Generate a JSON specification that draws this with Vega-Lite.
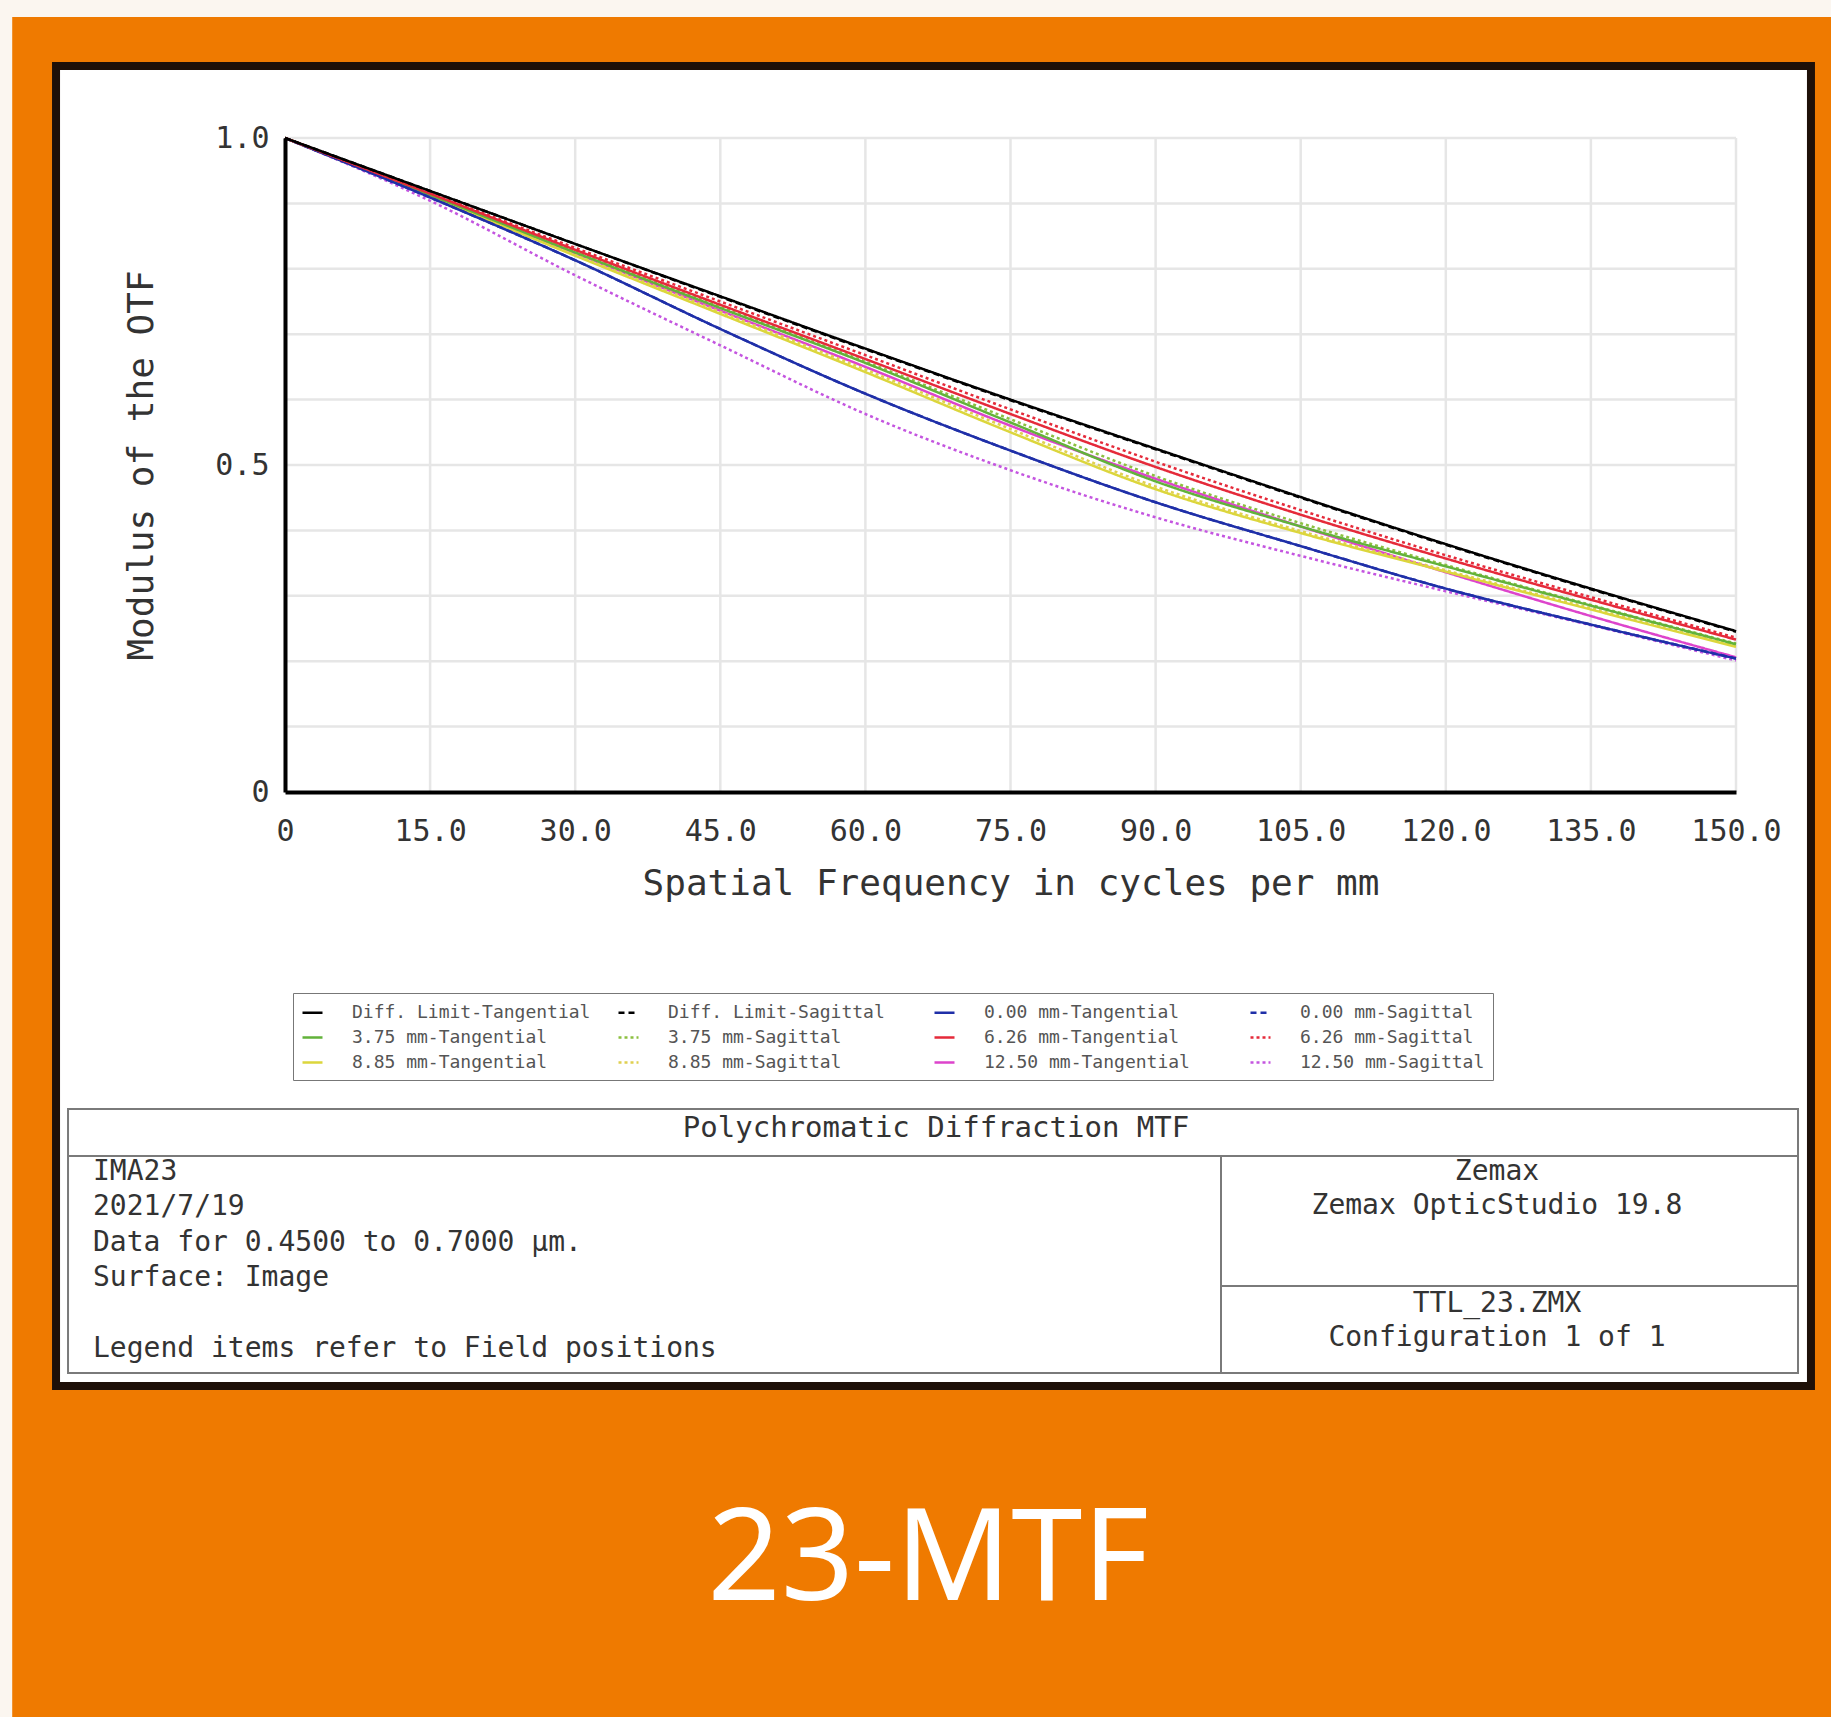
{
  "$schema": "https://vega.github.io/schema/vega-lite/v6.json",
  "width": 1451,
  "height": 654,
  "autosize": {"type": "none"},
  "padding": {"left": 285, "top": 138, "right": 95, "bottom": 925},
  "background": "#fbf6f0",
  "config": {"view": {"stroke": null}},
  "layer": [
    {
      "data": {"values": [{}]},
      "mark": {"type": "rect", "color": "#ef7a00"},
      "encoding": {
        "x": {"datum": -28.2, "type": "quantitative", "scale": {"domain": [0, 150], "nice": false}},
        "x2": {"datum": 165},
        "y": {"datum": 1.185, "type": "quantitative", "scale": {"domain": [0, 1], "nice": false}},
        "y2": {"datum": -1.5}
      }
    },
    {
      "data": {"values": [{}]},
      "mark": {"type": "rect", "fill": "#ffffff", "stroke": "#1e1008", "strokeWidth": 8},
      "encoding": {
        "x": {"datum": -23.67, "type": "quantitative"},
        "x2": {"datum": 157.75},
        "y": {"datum": 1.1101, "type": "quantitative"},
        "y2": {"datum": -0.9083}
      }
    },
    {
      "data": {"values": [{"g": 0}, {"g": 15}, {"g": 30}, {"g": 45}, {"g": 60}, {"g": 75}, {"g": 90}, {"g": 105}, {"g": 120}, {"g": 135}, {"g": 150}]},
      "mark": {"type": "rule", "color": "#e6e6e6", "strokeWidth": 2.5},
      "encoding": {"x": {"field": "g", "type": "quantitative"}}
    },
    {
      "data": {"values": [{"g": 0.1}, {"g": 0.2}, {"g": 0.3}, {"g": 0.4}, {"g": 0.5}, {"g": 0.6}, {"g": 0.7}, {"g": 0.8}, {"g": 0.9}, {"g": 1.0}]},
      "mark": {"type": "rule", "color": "#e6e6e6", "strokeWidth": 2.5},
      "encoding": {"y": {"field": "g", "type": "quantitative"}}
    },
    {
      "data": {"values": [{}]},
      "mark": {"type": "rect", "filled": false, "stroke": "#7a7a7a", "strokeWidth": 2},
      "encoding": {
        "x": {"datum": -22.43, "type": "quantitative"},
        "x2": {"datum": 156.41},
        "y": {"datum": -0.4847, "type": "quantitative"},
        "y2": {"datum": -0.8884}
      }
    },
    {
      "data": {"values": [{}]},
      "mark": {"type": "rule", "stroke": "#7a7a7a", "strokeWidth": 2},
      "encoding": {
        "x": {"datum": -22.43, "type": "quantitative"},
        "x2": {"datum": 156.41},
        "y": {"datum": -0.5566, "type": "quantitative"}
      }
    },
    {
      "data": {"values": [{}]},
      "mark": {"type": "rule", "stroke": "#7a7a7a", "strokeWidth": 2},
      "encoding": {
        "x": {"datum": 96.76, "type": "quantitative"},
        "y": {"datum": -0.5566, "type": "quantitative"},
        "y2": {"datum": -0.8884}
      }
    },
    {
      "data": {"values": [{}]},
      "mark": {"type": "rule", "stroke": "#7a7a7a", "strokeWidth": 2},
      "encoding": {
        "x": {"datum": 96.76, "type": "quantitative"},
        "x2": {"datum": 156.41},
        "y": {"datum": -0.7554, "type": "quantitative"}
      }
    },
    {
      "data": {"values": [{}]},
      "mark": {"type": "text", "text": "Polychromatic Diffraction MTF", "font": "DejaVu Sans Mono", "fontSize": 29, "color": "#333333", "align": "center", "baseline": "middle"},
      "encoding": {
        "x": {"datum": 67.3, "type": "quantitative"},
        "y": {"datum": -0.5138, "type": "quantitative"}
      }
    },
    {
      "data": {"values": [{}]},
      "mark": {"type": "text", "text": ["IMA23", "2021/7/19", "Data for 0.4500 to 0.7000 µm.", "Surface: Image"], "lineHeight": 35.4, "font": "DejaVu Sans Mono", "fontSize": 28, "color": "#333333", "align": "left", "baseline": "middle"},
      "encoding": {
        "x": {"datum": -19.85, "type": "quantitative"},
        "y": {"datum": -0.581, "type": "quantitative"}
      }
    },
    {
      "data": {"values": [{}]},
      "mark": {"type": "text", "text": "Legend items refer to Field positions", "font": "DejaVu Sans Mono", "fontSize": 28, "color": "#333333", "align": "left", "baseline": "middle"},
      "encoding": {
        "x": {"datum": -19.85, "type": "quantitative"},
        "y": {"datum": -0.8517, "type": "quantitative"}
      }
    },
    {
      "data": {"values": [{}]},
      "mark": {"type": "text", "text": ["Zemax", "Zemax OpticStudio 19.8"], "lineHeight": 34, "font": "DejaVu Sans Mono", "fontSize": 28, "color": "#333333", "align": "center", "baseline": "middle"},
      "encoding": {
        "x": {"datum": 125.29, "type": "quantitative"},
        "y": {"datum": -0.581, "type": "quantitative"}
      }
    },
    {
      "data": {"values": [{}]},
      "mark": {"type": "text", "text": ["TTL_23.ZMX", "Configuration 1 of 1"], "lineHeight": 34, "font": "DejaVu Sans Mono", "fontSize": 28, "color": "#333333", "align": "center", "baseline": "middle"},
      "encoding": {
        "x": {"datum": 125.29, "type": "quantitative"},
        "y": {"datum": -0.7829, "type": "quantitative"}
      }
    },
    {
      "data": {"values": [{}]},
      "mark": {"type": "text", "text": "23-MTF", "font": "Noto Sans", "fontSize": 128, "color": "#ffffff", "align": "center", "baseline": "middle"},
      "encoding": {
        "x": {"datum": 66.5, "type": "quantitative"},
        "y": {"datum": -1.1774, "type": "quantitative"}
      }
    },
    {
      "data": {"values": [
        {"s": "12.50 mm-Sagittal", "f": 0, "v": 1.0}, {"s": "12.50 mm-Sagittal", "f": 15, "v": 0.904}, {"s": "12.50 mm-Sagittal", "f": 30, "v": 0.790}, {"s": "12.50 mm-Sagittal", "f": 45, "v": 0.683}, {"s": "12.50 mm-Sagittal", "f": 60, "v": 0.578}, {"s": "12.50 mm-Sagittal", "f": 75, "v": 0.492}, {"s": "12.50 mm-Sagittal", "f": 90, "v": 0.420}, {"s": "12.50 mm-Sagittal", "f": 105, "v": 0.361}, {"s": "12.50 mm-Sagittal", "f": 120, "v": 0.307}, {"s": "12.50 mm-Sagittal", "f": 135, "v": 0.255}, {"s": "12.50 mm-Sagittal", "f": 150, "v": 0.201},
        {"s": "12.50 mm-Tangential", "f": 0, "v": 1.0}, {"s": "12.50 mm-Tangential", "f": 15, "v": 0.913}, {"s": "12.50 mm-Tangential", "f": 30, "v": 0.824}, {"s": "12.50 mm-Tangential", "f": 45, "v": 0.736}, {"s": "12.50 mm-Tangential", "f": 60, "v": 0.650}, {"s": "12.50 mm-Tangential", "f": 75, "v": 0.560}, {"s": "12.50 mm-Tangential", "f": 90, "v": 0.479}, {"s": "12.50 mm-Tangential", "f": 105, "v": 0.406}, {"s": "12.50 mm-Tangential", "f": 120, "v": 0.336}, {"s": "12.50 mm-Tangential", "f": 135, "v": 0.269}, {"s": "12.50 mm-Tangential", "f": 150, "v": 0.206},
        {"s": "8.85 mm-Sagittal", "f": 0, "v": 1.0}, {"s": "8.85 mm-Sagittal", "f": 15, "v": 0.912}, {"s": "8.85 mm-Sagittal", "f": 30, "v": 0.822}, {"s": "8.85 mm-Sagittal", "f": 45, "v": 0.734}, {"s": "8.85 mm-Sagittal", "f": 60, "v": 0.646}, {"s": "8.85 mm-Sagittal", "f": 75, "v": 0.555}, {"s": "8.85 mm-Sagittal", "f": 90, "v": 0.467}, {"s": "8.85 mm-Sagittal", "f": 105, "v": 0.399}, {"s": "8.85 mm-Sagittal", "f": 120, "v": 0.339}, {"s": "8.85 mm-Sagittal", "f": 135, "v": 0.281}, {"s": "8.85 mm-Sagittal", "f": 150, "v": 0.224},
        {"s": "8.85 mm-Tangential", "f": 0, "v": 1.0}, {"s": "8.85 mm-Tangential", "f": 15, "v": 0.911}, {"s": "8.85 mm-Tangential", "f": 30, "v": 0.820}, {"s": "8.85 mm-Tangential", "f": 45, "v": 0.731}, {"s": "8.85 mm-Tangential", "f": 60, "v": 0.642}, {"s": "8.85 mm-Tangential", "f": 75, "v": 0.550}, {"s": "8.85 mm-Tangential", "f": 90, "v": 0.463}, {"s": "8.85 mm-Tangential", "f": 105, "v": 0.396}, {"s": "8.85 mm-Tangential", "f": 120, "v": 0.337}, {"s": "8.85 mm-Tangential", "f": 135, "v": 0.279}, {"s": "8.85 mm-Tangential", "f": 150, "v": 0.222},
        {"s": "3.75 mm-Sagittal", "f": 0, "v": 1.0}, {"s": "3.75 mm-Sagittal", "f": 15, "v": 0.914}, {"s": "3.75 mm-Sagittal", "f": 30, "v": 0.827}, {"s": "3.75 mm-Sagittal", "f": 45, "v": 0.742}, {"s": "3.75 mm-Sagittal", "f": 60, "v": 0.658}, {"s": "3.75 mm-Sagittal", "f": 75, "v": 0.570}, {"s": "3.75 mm-Sagittal", "f": 90, "v": 0.483}, {"s": "3.75 mm-Sagittal", "f": 105, "v": 0.411}, {"s": "3.75 mm-Sagittal", "f": 120, "v": 0.347}, {"s": "3.75 mm-Sagittal", "f": 135, "v": 0.286}, {"s": "3.75 mm-Sagittal", "f": 150, "v": 0.227},
        {"s": "3.75 mm-Tangential", "f": 0, "v": 1.0}, {"s": "3.75 mm-Tangential", "f": 15, "v": 0.913}, {"s": "3.75 mm-Tangential", "f": 30, "v": 0.825}, {"s": "3.75 mm-Tangential", "f": 45, "v": 0.740}, {"s": "3.75 mm-Tangential", "f": 60, "v": 0.656}, {"s": "3.75 mm-Tangential", "f": 75, "v": 0.565}, {"s": "3.75 mm-Tangential", "f": 90, "v": 0.475}, {"s": "3.75 mm-Tangential", "f": 105, "v": 0.406}, {"s": "3.75 mm-Tangential", "f": 120, "v": 0.345}, {"s": "3.75 mm-Tangential", "f": 135, "v": 0.285}, {"s": "3.75 mm-Tangential", "f": 150, "v": 0.226},
        {"s": "0.00 mm-Sagittal", "f": 0, "v": 1.0}, {"s": "0.00 mm-Sagittal", "f": 15, "v": 0.909}, {"s": "0.00 mm-Sagittal", "f": 30, "v": 0.813}, {"s": "0.00 mm-Sagittal", "f": 45, "v": 0.708}, {"s": "0.00 mm-Sagittal", "f": 60, "v": 0.609}, {"s": "0.00 mm-Sagittal", "f": 75, "v": 0.522}, {"s": "0.00 mm-Sagittal", "f": 90, "v": 0.443}, {"s": "0.00 mm-Sagittal", "f": 105, "v": 0.376}, {"s": "0.00 mm-Sagittal", "f": 120, "v": 0.311}, {"s": "0.00 mm-Sagittal", "f": 135, "v": 0.256}, {"s": "0.00 mm-Sagittal", "f": 150, "v": 0.204},
        {"s": "0.00 mm-Tangential", "f": 0, "v": 1.0}, {"s": "0.00 mm-Tangential", "f": 15, "v": 0.909}, {"s": "0.00 mm-Tangential", "f": 30, "v": 0.813}, {"s": "0.00 mm-Tangential", "f": 45, "v": 0.708}, {"s": "0.00 mm-Tangential", "f": 60, "v": 0.609}, {"s": "0.00 mm-Tangential", "f": 75, "v": 0.522}, {"s": "0.00 mm-Tangential", "f": 90, "v": 0.443}, {"s": "0.00 mm-Tangential", "f": 105, "v": 0.376}, {"s": "0.00 mm-Tangential", "f": 120, "v": 0.311}, {"s": "0.00 mm-Tangential", "f": 135, "v": 0.256}, {"s": "0.00 mm-Tangential", "f": 150, "v": 0.204},
        {"s": "6.26 mm-Tangential", "f": 0, "v": 1.0}, {"s": "6.26 mm-Tangential", "f": 15, "v": 0.915}, {"s": "6.26 mm-Tangential", "f": 30, "v": 0.829}, {"s": "6.26 mm-Tangential", "f": 45, "v": 0.745}, {"s": "6.26 mm-Tangential", "f": 60, "v": 0.662}, {"s": "6.26 mm-Tangential", "f": 75, "v": 0.578}, {"s": "6.26 mm-Tangential", "f": 90, "v": 0.497}, {"s": "6.26 mm-Tangential", "f": 105, "v": 0.424}, {"s": "6.26 mm-Tangential", "f": 120, "v": 0.357}, {"s": "6.26 mm-Tangential", "f": 135, "v": 0.294}, {"s": "6.26 mm-Tangential", "f": 150, "v": 0.233},
        {"s": "6.26 mm-Sagittal", "f": 0, "v": 1.0}, {"s": "6.26 mm-Sagittal", "f": 15, "v": 0.916}, {"s": "6.26 mm-Sagittal", "f": 30, "v": 0.832}, {"s": "6.26 mm-Sagittal", "f": 45, "v": 0.750}, {"s": "6.26 mm-Sagittal", "f": 60, "v": 0.668}, {"s": "6.26 mm-Sagittal", "f": 75, "v": 0.585}, {"s": "6.26 mm-Sagittal", "f": 90, "v": 0.505}, {"s": "6.26 mm-Sagittal", "f": 105, "v": 0.431}, {"s": "6.26 mm-Sagittal", "f": 120, "v": 0.362}, {"s": "6.26 mm-Sagittal", "f": 135, "v": 0.298}, {"s": "6.26 mm-Sagittal", "f": 150, "v": 0.236},
        {"s": "Diff. Limit-Sagittal", "f": 0, "v": 1.0}, {"s": "Diff. Limit-Sagittal", "f": 15, "v": 0.919}, {"s": "Diff. Limit-Sagittal", "f": 30, "v": 0.838}, {"s": "Diff. Limit-Sagittal", "f": 45, "v": 0.757}, {"s": "Diff. Limit-Sagittal", "f": 60, "v": 0.677}, {"s": "Diff. Limit-Sagittal", "f": 75, "v": 0.599}, {"s": "Diff. Limit-Sagittal", "f": 90, "v": 0.524}, {"s": "Diff. Limit-Sagittal", "f": 105, "v": 0.450}, {"s": "Diff. Limit-Sagittal", "f": 120, "v": 0.378}, {"s": "Diff. Limit-Sagittal", "f": 135, "v": 0.310}, {"s": "Diff. Limit-Sagittal", "f": 150, "v": 0.245},
        {"s": "Diff. Limit-Tangential", "f": 0, "v": 1.0}, {"s": "Diff. Limit-Tangential", "f": 15, "v": 0.919}, {"s": "Diff. Limit-Tangential", "f": 30, "v": 0.838}, {"s": "Diff. Limit-Tangential", "f": 45, "v": 0.758}, {"s": "Diff. Limit-Tangential", "f": 60, "v": 0.678}, {"s": "Diff. Limit-Tangential", "f": 75, "v": 0.600}, {"s": "Diff. Limit-Tangential", "f": 90, "v": 0.525}, {"s": "Diff. Limit-Tangential", "f": 105, "v": 0.451}, {"s": "Diff. Limit-Tangential", "f": 120, "v": 0.379}, {"s": "Diff. Limit-Tangential", "f": 135, "v": 0.311}, {"s": "Diff. Limit-Tangential", "f": 150, "v": 0.246}
      ]},
      "mark": {"type": "line", "strokeWidth": 2.5, "interpolate": "monotone"},
      "encoding": {
        "x": {
          "field": "f", "type": "quantitative",
          "axis": {
            "values": [0, 15, 30, 45, 60, 75, 90, 105, 120, 135, 150],
            "labelExpr": "datum.value == 0 ? '0' : format(datum.value, '.1f')",
            "labelFont": "DejaVu Sans Mono", "labelFontSize": 30, "labelColor": "#333333",
            "labelPadding": 24, "labelFlush": false, "labelOverlap": false,
            "title": "Spatial Frequency in cycles per mm",
            "titleFont": "DejaVu Sans Mono", "titleFontSize": 36, "titleFontWeight": "normal", "titleColor": "#333333", "titlePadding": 20,
            "domainColor": "#000000", "domainWidth": 4, "ticks": false, "grid": false, "zindex": 1
          }
        },
        "y": {
          "field": "v", "type": "quantitative",
          "axis": {
            "values": [0, 0.5, 1],
            "labelExpr": "datum.value == 0 ? '0' : format(datum.value, '.1f')",
            "labelFont": "DejaVu Sans Mono", "labelFontSize": 30, "labelColor": "#333333",
            "labelPadding": 16, "labelFlush": false, "labelOverlap": false,
            "title": "Modulus of the OTF",
            "titleFont": "DejaVu Sans Mono", "titleFontSize": 36, "titleFontWeight": "normal", "titleColor": "#333333", "titlePadding": 54,
            "domainColor": "#000000", "domainWidth": 4, "ticks": false, "grid": false, "zindex": 1
          }
        },
        "color": {
          "field": "s", "type": "nominal",
          "scale": {
            "domain": ["Diff. Limit-Tangential", "Diff. Limit-Sagittal", "0.00 mm-Tangential", "0.00 mm-Sagittal", "3.75 mm-Tangential", "3.75 mm-Sagittal", "6.26 mm-Tangential", "6.26 mm-Sagittal", "8.85 mm-Tangential", "8.85 mm-Sagittal", "12.50 mm-Tangential", "12.50 mm-Sagittal"],
            "range": ["#000000", "#000000", "#1f2fa8", "#1f2fa8", "#62b23a", "#8cc040", "#e52a3a", "#e52a3a", "#dcd63c", "#e0d050", "#dd44cc", "#c455e0"]
          },
          "legend": {
            "orient": "none", "legendX": 8, "legendY": 855, "columns": 4, "direction": "horizontal", "title": null,
            "symbolType": "stroke", "symbolSize": 400, "symbolStrokeWidth": 2.5,
            "labelFont": "DejaVu Sans Mono", "labelFontSize": 18, "labelColor": "#555555", "labelOffset": 28, "labelLimit": 400,
            "columnPadding": 22, "rowPadding": 4, "padding": 8, "gridAlign": "all",
            "strokeColor": "#777777", "fillColor": "#ffffff"
          }
        },
        "strokeDash": {
          "field": "s", "type": "nominal",
          "scale": {
            "domain": ["Diff. Limit-Tangential", "Diff. Limit-Sagittal", "0.00 mm-Tangential", "0.00 mm-Sagittal", "3.75 mm-Tangential", "3.75 mm-Sagittal", "6.26 mm-Tangential", "6.26 mm-Sagittal", "8.85 mm-Tangential", "8.85 mm-Sagittal", "12.50 mm-Tangential", "12.50 mm-Sagittal"],
            "range": [[1, 0], [6, 4], [1, 0], [6, 4], [1, 0], [3, 3], [1, 0], [3, 3], [1, 0], [3, 3], [1, 0], [3, 3]]
          }
        }
      }
    }
  ]
}
